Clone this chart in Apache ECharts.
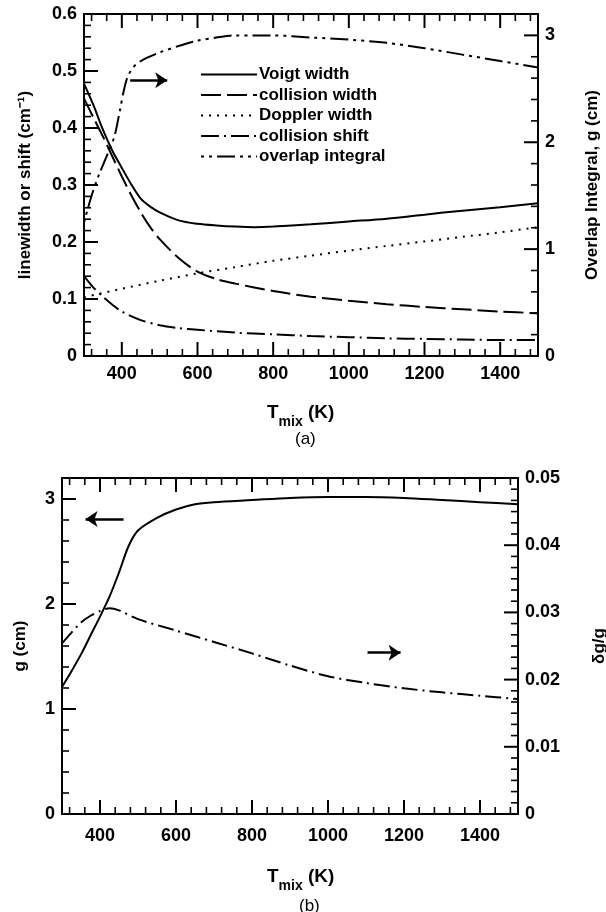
<!DOCTYPE html>
<html><head><meta charset="utf-8">
<script src="https://cdn.jsdelivr.net/npm/echarts@6/dist/echarts.min.js"></script>
<style>html,body{margin:0;padding:0;background:#fff}#c{width:606px;height:912px}</style>
</head><body><div id="c"></div>
<script>
// ---------- DATA: panel (a) ----------
const tVoigt = [300,325,350,375,400,425,450,475,500,550,600,650,700,750,800,900,1000,1100,1200,1300,1400,1500];
const voigtWidth = [0.478,0.440,0.397,0.360,0.330,0.301,0.276,0.262,0.252,0.238,0.232,0.229,0.227,0.226,0.227,0.231,0.236,0.241,0.248,0.255,0.261,0.268];
const tColl = [300,325,350,375,400,425,450,475,500,550,600,650,700,800,900,1000,1100,1200,1300,1400,1500];
const collisionWidth = [0.452,0.418,0.385,0.350,0.315,0.282,0.252,0.226,0.205,0.172,0.148,0.135,0.127,0.114,0.104,0.097,0.091,0.086,0.082,0.078,0.075];
const tDopp = [300,400,500,600,700,800,900,1000,1100,1200,1300,1400,1500];
const dopplerWidth = [0.103,0.118,0.132,0.145,0.156,0.167,0.176,0.185,0.193,0.201,0.209,0.217,0.226];
const tShift = [300,325,350,375,400,450,500,550,600,700,800,900,1000,1100,1200,1300,1400,1500];
const collisionShift = [0.140,0.120,0.104,0.090,0.078,0.063,0.054,0.049,0.046,0.041,0.038,0.035,0.033,0.031,0.030,0.029,0.028,0.028];
const tOver = [300,320,340,360,380,395,405,415,430,450,500,550,600,650,700,750,800,900,1000,1100,1200,1300,1400,1500];
const overlapIntegral = [1.25,1.50,1.70,1.87,2.05,2.30,2.48,2.61,2.70,2.76,2.84,2.90,2.95,2.98,3.00,3.00,3.00,2.98,2.96,2.93,2.88,2.82,2.76,2.70];

// ---------- DATA: panel (b) ----------
const tG = [300,325,350,375,400,425,450,475,500,550,600,650,700,800,900,1000,1100,1200,1300,1400,1500];
const gValues = [1.21,1.36,1.52,1.70,1.88,2.07,2.30,2.55,2.70,2.82,2.90,2.95,2.97,2.99,3.01,3.02,3.02,3.01,2.99,2.97,2.95];
const tDg = [300,325,350,375,400,425,450,500,600,700,800,900,1000,1100,1200,1300,1400,1500];
const dgOverG = [0.0254,0.0270,0.0285,0.0295,0.0302,0.0306,0.0303,0.0290,0.0273,0.0256,0.0239,0.0221,0.0205,0.0195,0.0187,0.0181,0.0176,0.0171];

// ---------- tick labels / tick positions ----------
const xLabels = [400,600,800,1000,1200,1400];
const xMajorTicks = [400,600,800,1000,1200,1400];
const xMinorTicks = [320,360,440,480,520,560,640,680,720,760,840,880,920,960,1040,1080,1120,1160,1240,1280,1320,1360,1440,1480];
const linewidthMajor = [0.1,0.2,0.3,0.4,0.5];
const linewidthMinor = [];
for (let i = 1; i < 30; i++) if (i % 5) linewidthMinor.push(i / 50);
const gMajor = [1,2,3];
const gMinor = [];
for (let i = 1; i < 16; i++) if (i % 5) gMinor.push(i / 5);
const dgMajor = [0.01,0.02,0.03,0.04];
const dgMinor = [];
for (let i = 1; i < 30; i++) if (i % 6) dgMinor.push(i / 600);

const pairs = (xs, ys) => xs.map((x, i) => [x, ys[i]]);
const FONT = 'Liberation Sans, Arial, Helvetica, sans-serif';
const LONG = 14, SHORT = 7;

function tickSeries(xi, yi, pts, dx, dy) {
  return {
    type: 'custom', xAxisIndex: xi, yAxisIndex: yi, silent: true, clip: false, z: 10,
    data: pts,
    renderItem: function (params, api) {
      const p = api.coord([api.value(0), api.value(1)]);
      const L = api.value(2);
      return { type: 'line',
        shape: { x1: p[0], y1: p[1], x2: p[0] + dx * L, y2: p[1] + dy * L },
        style: { stroke: '#000', lineWidth: L > 10 ? 2 : 1.6 } };
    }
  };
}
function xTickPts(yv) {
  return xMajorTicks.map(v => [v, yv, LONG]).concat(xMinorTicks.map(v => [v, yv, SHORT]));
}
function yTickPts(xv, maj, min) {
  return maj.map(v => [xv, v, LONG]).concat(min.map(v => [xv, v, SHORT]));
}

const axisLabelStyle = { color: '#000', fontFamily: FONT, fontWeight: 'bold', fontSize: 18 };
const nameStyle = { color: '#000', fontFamily: FONT, fontWeight: 'bold', fontSize: 17 };

function xAxis(gi, margin) {
  return { type: 'value', gridIndex: gi, min: 300, max: 1500, interval: 100,
    axisLine: { show: true, lineStyle: { color: '#000', width: 2 } },
    axisTick: { show: false }, splitLine: { show: false },
    axisLabel: Object.assign({ margin: margin, formatter: v => xLabels.includes(v) ? String(v) : '' }, axisLabelStyle) };
}
function yAxis(gi, pos, max, interval, name, gap, fmt) {
  return { type: 'value', gridIndex: gi, position: pos, min: 0, max: max, interval: interval,
    name: name, nameLocation: 'middle', nameRotate: 90, nameGap: gap, nameTextStyle: nameStyle,
    axisLine: { show: true, onZero: false, lineStyle: { color: '#000', width: 2 } },
    axisTick: { show: false }, splitLine: { show: false },
    axisLabel: Object.assign({ margin: 7, formatter: fmt }, axisLabelStyle) };
}
const intFmt = v => (Math.abs(v - Math.round(v)) < 1e-9 ? String(Math.round(v)) : '');
const plainFmt = v => String(+v.toFixed(3));

const black = '#000';
function lineSeries(name, data, xi, yi, type, extra) {
  return Object.assign({ name: name, type: 'line', xAxisIndex: xi, yAxisIndex: yi, data: data,
    showSymbol: false, symbol: 'none', smooth: 0.3, animation: false,
    lineStyle: { color: black, width: 2, type: type }, itemStyle: { color: black } }, extra || {});
}
function arrow(from, to) {
  return { silent: true, symbol: ['none', 'arrow'], symbolSize: 12, animation: false,
    label: { show: false }, lineStyle: { color: black, width: 2.5, type: 'solid' },
    emphasis: { disabled: true },
    data: [[{ coord: from }, { coord: to }]] };
}

const subTitle = (top) => ({ text: '{t|T}{s|mix}{t| (K)}', left: 262, top: top, textStyle: { rich: {
  t: { fontFamily: FONT, fontSize: 19, color: '#000', verticalAlign: 'top', lineHeight: 20 },
  s: { fontFamily: FONT, fontSize: 14, color: '#000', verticalAlign: 'bottom', lineHeight: 26, fontWeight: 'bold' } } } });

const chart = echarts.init(document.getElementById('c'), null, { renderer: 'canvas' });
chart.setOption({
  animation: false,
  backgroundColor: '#fff',
  grid: [
    { left: 84, right: 68, top: 14, height: 342, show: true, borderColor: '#000', borderWidth: 2,
      backgroundColor: 'transparent', containLabel: false, outerBoundsMode: 'none' },
    { left: 62, right: 88, top: 478, height: 336, show: true, borderColor: '#000', borderWidth: 2,
      backgroundColor: 'transparent', containLabel: false, outerBoundsMode: 'none' }
  ],
  title: [
    subTitle(398),
    { text: '(a)', left: 290, top: 426, textStyle: { fontFamily: FONT, fontSize: 17, fontWeight: 'normal', color: '#000' } },
    subTitle(862),
    { text: '(b)', left: 294, top: 893, textStyle: { fontFamily: FONT, fontSize: 17, fontWeight: 'normal', color: '#000' } }
  ],
  legend: {
    data: ['Voigt width', 'collision width', 'Doppler width', 'collision shift', 'overlap integral'],
    orient: 'vertical', left: 195, top: 61, itemWidth: 56, itemHeight: 14, itemGap: 3.5,
    selectedMode: false,
    itemStyle: { opacity: 0, borderWidth: 0 },
    textStyle: { fontFamily: FONT, fontWeight: 'bold', fontSize: 17, color: '#000', padding: [0, 0, 0, -3] }
  },
  xAxis: [xAxis(0, 9), xAxis(1, 13)],
  yAxis: [
    yAxis(0, 'left', 0.6, 0.1, 'linewidth or shift (cm\u207B\u00B9)', 50, plainFmt),
    yAxis(0, 'right', 3.2, 1, 'Overlap Integral, g (cm)', 46, intFmt),
    yAxis(1, 'left', 3.2, 1, 'g (cm)', 33, intFmt),
    yAxis(1, 'right', 0.05, 0.01, '\u03B4g/g', 73, plainFmt)
  ],
  series: [
    lineSeries('Voigt width', pairs(tVoigt, voigtWidth), 0, 0, 'solid'),
    lineSeries('collision width', pairs(tColl, collisionWidth), 0, 0, [20, 6]),
    lineSeries('Doppler width', pairs(tDopp, dopplerWidth), 0, 0, [2, 6]),
    lineSeries('collision shift', pairs(tShift, collisionShift), 0, 0, [18, 5, 2, 5]),
    lineSeries('overlap integral', pairs(tOver, overlapIntegral), 0, 1, [3, 5, 3, 5, 18, 5],
      { markLine: arrow([422, 2.58], [520, 2.58]) }),
    lineSeries('g', pairs(tG, gValues), 1, 2, 'solid',
      { markLine: arrow([462, 2.81], [362, 2.81]) }),
    lineSeries('\u03B4g/g', pairs(tDg, dgOverG), 1, 3, [16, 5, 2, 5],
      { markLine: arrow([1104, 0.024], [1191, 0.024]) }),
    // axis ticks, panel (a)
    tickSeries(0, 0, xTickPts(0), 0, -1),
    tickSeries(0, 0, xTickPts(0.6), 0, 1),
    tickSeries(0, 0, yTickPts(300, linewidthMajor, linewidthMinor), 1, 0),
    tickSeries(0, 1, yTickPts(1500, gMajor, gMinor), -1, 0),
    // axis ticks, panel (b)
    tickSeries(1, 2, xTickPts(0), 0, -1),
    tickSeries(1, 2, xTickPts(3.2), 0, 1),
    tickSeries(1, 2, yTickPts(300, gMajor, gMinor), 1, 0),
    tickSeries(1, 3, yTickPts(1500, dgMajor, dgMinor), -1, 0)
  ]
});
</script></body></html>
